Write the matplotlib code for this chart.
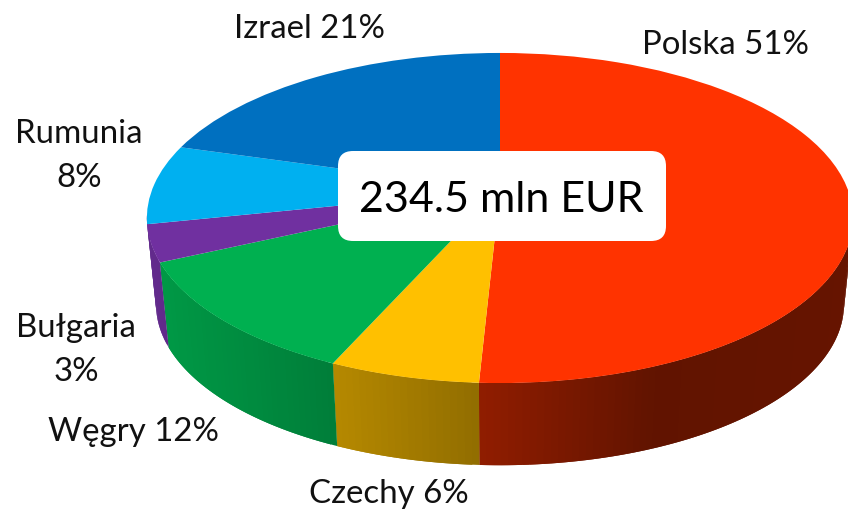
import numpy as np
import matplotlib
matplotlib.use("Agg")
import matplotlib.pyplot as plt
from matplotlib.patches import FancyBboxPatch
from matplotlib.collections import PolyCollection
from matplotlib.colors import to_rgb
from matplotlib.transforms import Transform

# ---- data -------------------------------------------------------------
countries = ["Polska", "Czechy", "Węgry", "Bułgaria", "Rumunia", "Izrael"]
shares = [50.8, 5.85, 11.45, 3.6, 7.8, 20.5]
labels = ["Polska 51%", "Czechy 6%", "Węgry 12%", "Bułgaria\n3%", "Rumunia\n8%", "Izrael 21%"]
total_label = "234.5 mln EUR"

# ---- style ------------------------------------------------------------
colors = ["#FF3300", "#FFC000", "#00B050", "#7030A0", "#00B0F0", "#0070C0"]
# wall colours: the sliver of Rumunia's wall at the silhouette shows as purple
wall_colors = ["#FF3300", "#FFC000", "#00B050", "#7030A0", "#7030A0", "#0070C0"]
label_pos = [(725, 45), (389, 494), (134, 432), (76, 350), (79, 156), (309, 29)]
FONT = "Lato"
plt.rcParams["font.family"] = [FONT, "DejaVu Sans"]

K = 0.1697                       # perspective strength
TOP = dict(cx=500, cy=190, a=348, b=160.3)
BOT = dict(cx=500, cy=277, a=339, b=156.3)
shade_x = [150, 335, 480, 650, 850]
shade_v = [0.88, 0.71, 0.565, 0.38, 0.40]


def project(u, v, d):
    w = 1 + K * v
    return d["cx"] + d["a"] * u / w, d["cy"] - d["b"] * v / w


class Disc(Transform):
    input_dims = output_dims = 2
    is_affine = False
    has_inverse = False

    def __init__(self, d):
        super().__init__()
        self.d = d

    def transform_non_affine(self, values):
        values = np.asarray(values, float)
        x, y = project(values[:, 0], values[:, 1], self.d)
        return np.column_stack([x, y])


fig = plt.figure(figsize=(8.48, 5.11), dpi=100)
ax = fig.add_axes([0, 0, 1, 1])

# side wall: narrow overlapping strips, painted in order, shaded by screen x
frac = np.cumsum([0] + shares) / np.sum(shares)
polys, faces = [], []
for i, c in enumerate(wall_colors):
    t0, t1 = frac[i] * 2 * np.pi, frac[i + 1] * 2 * np.pi
    steps = max(2, int((t1 - t0) / np.radians(1.0)))
    edges = np.linspace(t0, t1, steps + 1)
    for j in range(steps):
        a0, a1 = edges[j], edges[min(j + 2, steps)]
        mid = (edges[j] + edges[j + 1]) / 2
        if np.cos(mid) > -K + 0.01 and j + 1 < steps and np.cos(edges[j + 1]) > -K:
            continue                     # beyond the silhouette
        if np.cos(a0) > -K:
            continue
        xt = [project(np.sin(a), np.cos(a), TOP) for a in (a0, a1)]
        xb = [project(np.sin(a), np.cos(a), BOT) for a in (a1, a0)]
        polys.append(xt + xb)
        px = np.mean([p[0] for p in xt + xb])
        faces.append(tuple(np.array(to_rgb(c)) * np.interp(px, shade_x, shade_v)))
ax.add_collection(PolyCollection(polys, facecolors=faces, edgecolors="none",
                                 linewidths=0, zorder=1))

# top face
ax.pie(shares, colors=colors, startangle=90, counterclock=False, radius=1,
       wedgeprops={"transform": Disc(TOP) + ax.transData, "linewidth": 0,
                   "zorder": 2})

ax.set_aspect("auto")
ax.set_xlim(0, 848)
ax.set_ylim(511, 0)
ax.axis("off")

# centre box
ax.add_patch(FancyBboxPatch((353, 166), 298, 60,
                            boxstyle="round,pad=15,rounding_size=15",
                            facecolor="white", edgecolor="none", zorder=3))
ax.text(501, 200, total_label, ha="center", va="center", fontsize=31,
        color="black", zorder=4)

for lab, (x, y) in zip(labels, label_pos):
    ax.text(x, y, lab, ha="center", va="center", fontsize=23.8, color="#111111",
            linespacing=1.6, zorder=4)

fig.savefig("out.png", dpi=100)
